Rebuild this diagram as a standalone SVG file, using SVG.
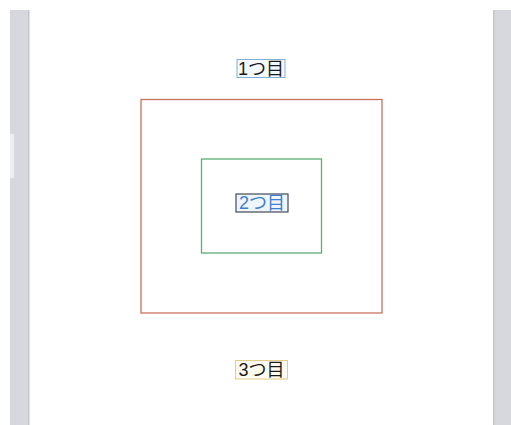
<svg xmlns="http://www.w3.org/2000/svg" width="511" height="425" viewBox="0 0 511 425">
<style>
.lbl{font-family:"Liberation Sans","Noto Sans CJK JP",sans-serif;font-size:18px;text-anchor:middle;dominant-baseline:central}
.box{fill:none;stroke-width:1.3}
</style>
<rect width="511" height="425" fill="#ffffff"/>
<g id="frame">
<rect x="10" y="10" width="19" height="415" fill="#d6d8dd"/>
<rect x="28" y="10" width="1.5" height="415" fill="#c4c6cb"/>
<rect x="10" y="134" width="4" height="44" fill="#eceef0"/>
<rect x="493" y="10" width="18" height="415" fill="#d6d8dd"/>
<rect x="493" y="10" width="1.5" height="415" fill="#c4c6cb"/>
</g>
<g id="outer">
<rect class="box" x="141" y="99.5" width="241" height="213.5" stroke="#c9705c"/>
</g>
<g id="inner">
<rect class="box" x="201.5" y="159" width="120" height="94" stroke="#5aae72"/>
</g>
<g id="label1">
<rect x="237" y="59.5" width="48" height="18" fill="#f4f9fd" stroke="#7fb0d0" stroke-width="1"/>
<text class="lbl" x="261" y="68.5" fill="#1a1a1a">1つ目</text>
</g>
<g id="label2">
<rect x="236" y="194" width="52" height="18" fill="#eef5fc" stroke="#444a50" stroke-width="1.2"/>
<text class="lbl" x="262" y="203" fill="#3d7fcc">2つ目</text>
</g>
<g id="label3">
<rect x="235.5" y="360.5" width="52" height="18.5" fill="#fdfbf0" stroke="#e2cc88" stroke-width="1"/>
<text class="lbl" x="261.5" y="369.5" fill="#1a1a1a">3つ目</text>
</g>
</svg>
